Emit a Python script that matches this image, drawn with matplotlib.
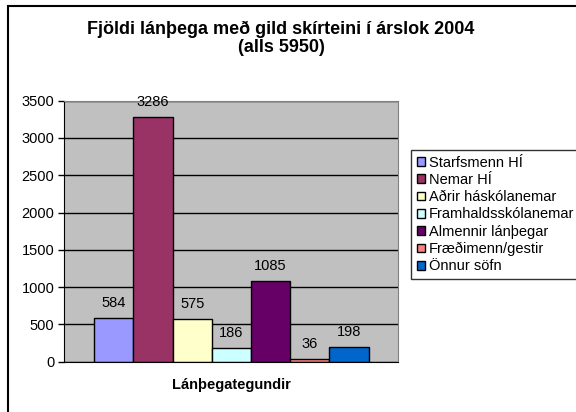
import matplotlib
matplotlib.use("Agg")
import matplotlib.pyplot as plt
from matplotlib.patches import Rectangle

plt.rcParams['font.family'] = ['Liberation Sans', 'DejaVu Sans']

categories = ["Starfsmenn HÍ", "Nemar HÍ", "Aðrir háskólanemar", "Framhaldsskólanemar",
              "Almennir lánþegar", "Fræðimenn/gestir", "Önnur söfn"]
values = [584, 3286, 575, 186, 1085, 36, 198]
colors = ["#9999FF", "#993366", "#FFFFCC", "#CCFFFF", "#660066", "#FF8080", "#0066CC"]
yticks = [0, 500, 1000, 1500, 2000, 2500, 3000, 3500]

fig = plt.figure(figsize=(5.76, 4.12), dpi=100)
fig.patch.set_facecolor("white")
# outer frame
fig.patches.append(Rectangle((8/576, -0.1), 1.2, 1 - 6/412 + 0.1, transform=fig.transFigure,
                             fill=False, edgecolor="black", linewidth=1.5, figure=fig))

ax = fig.add_axes([64/576, 1 - 361.7/412, (398 - 64)/576, (361.7 - 100.7)/412])
ax.set_facecolor("#C0C0C0")
ax.set_axisbelow(True)
ax.yaxis.grid(True, color="black", linewidth=1)

handles = []
for i, (c, v, col) in enumerate(zip(categories, values, colors)):
    b = ax.bar(i, v, width=1.0, color=col, edgecolor="black", linewidth=1, label=c)
    handles.append(b)
    ax.text(i, v + 200, str(v), ha="center", va="center", fontsize=10.5)

ax.set_xlim(-1.27, 7.25)
ax.set_ylim(0, 3500)
ax.set_yticks(yticks)
ax.set_yticklabels([str(t) for t in yticks], fontsize=10.5)
ax.set_xticks([])
ax.tick_params(axis="y", length=4, width=1, direction="out", pad=3)
for s in ["top", "right"]:
    ax.spines[s].set_color("#808080")
for s in ["left", "bottom"]:
    ax.spines[s].set_color("black")

fig.text(231/576, 1 - 385/412, "Lánþegategundir", ha="center", va="center",
         fontsize=10.5, fontweight="bold")

fig.text(281/576, 1 - 29/412, "Fjöldi lánþega með gild skírteini í árslok 2004",
         ha="center", va="center", fontsize=13, fontweight="bold")
fig.text(281/576, 1 - 47/412, "(alls 5950)",
         ha="center", va="center", fontsize=13, fontweight="bold")

leg = fig.legend(handles=handles, labels=categories, loc="upper left",
                 bbox_to_anchor=(411/576, 1 - 150/412), fontsize=10.5, frameon=True,
                 fancybox=False, shadow=False, handlelength=0.55, handleheight=0.55,
                 handletextpad=0.3, labelspacing=0.22, borderpad=0.4, borderaxespad=0)
leg.get_frame().set_edgecolor("black")
leg.get_frame().set_linewidth(1)

fig.savefig("out.png", dpi=100)
